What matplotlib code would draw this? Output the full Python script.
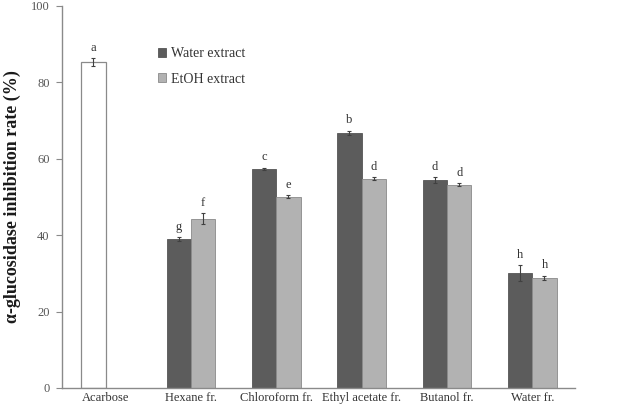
import numpy as np
import matplotlib.pyplot as plt

plt.rcParams['font.family'] = ['Liberation Serif', 'DejaVu Serif']

# data
categories = ['Acarbose', 'Hexane fr.', 'Chloroform fr.', 'Ethyl acetate fr.', 'Butanol fr.', 'Water fr.']
acarbose_val = 85.3
acarbose_err = 1.0
water_vals = [39.0, 57.3, 66.8, 54.4, 30.1]
water_errs = [0.5, 0.3, 0.5, 0.8, 2.0]
etoh_vals = [44.3, 50.1, 54.8, 53.2, 28.8]
etoh_errs = [1.4, 0.4, 0.4, 0.4, 0.5]
acarbose_letter = 'a'
water_letters = ['g', 'c', 'b', 'd', 'h']
etoh_letters = ['f', 'e', 'd', 'd', 'h']

fig = plt.figure(figsize=(6.44, 4.08), dpi=100)
ax = fig.add_axes([62 / 644, 20 / 408, 513 / 644, 382 / 408])

w = 0.285
x = np.arange(1, len(categories))
edge = '#8a8a8a'
ekw = dict(ecolor='#404040', elinewidth=0.8, capsize=1.5, capthick=0.8)

ax.bar(0 - w / 2, acarbose_val, w, color='white', edgecolor=edge, linewidth=0.9,
       yerr=acarbose_err, error_kw=ekw)
ax.bar(x - w / 2, water_vals, w, color='#5c5c5c', edgecolor='#555555', linewidth=0.6,
       yerr=water_errs, error_kw=ekw, label='Water extract')
ax.bar(x + w / 2, etoh_vals, w, color='#b2b2b2', edgecolor=edge, linewidth=0.6,
       yerr=etoh_errs, error_kw=ekw, label='EtOH extract')

lab = dict(ha='center', va='bottom', fontsize=9, color='#333333')
ax.text(0 - w / 2, acarbose_val + acarbose_err + 1.2, acarbose_letter, **lab)
for xi, v, e, t in zip(x, water_vals, water_errs, water_letters):
    ax.text(xi - w / 2, v + e + 1.2, t, **lab)
for xi, v, e, t in zip(x, etoh_vals, etoh_errs, etoh_letters):
    ax.text(xi + w / 2, v + e + 1.2, t, **lab)

ax.set_xlim(-0.51, 5.5)
ax.set_ylim(0, 100)
ax.set_yticks(np.arange(0, 101, 20))
ax.set_xticks(np.arange(len(categories)))
ax.set_xticklabels(categories, fontsize=9, color='#333333')
ax.tick_params(axis='x', length=0, pad=3)
ax.tick_params(axis='y', direction='out', length=4, color=edge, labelsize=9,
               labelcolor='#555555', pad=5)
for s in ['top', 'right']:
    ax.spines[s].set_visible(False)
for s in ['left', 'bottom']:
    ax.spines[s].set_color(edge)
    ax.spines[s].set_linewidth(1.0)

ax.set_ylabel('α-glucosidase inhibition rate (%)', fontsize=13, fontweight='bold',
              color='#1a1a1a')
ax.yaxis.set_label_coords(-0.08, 0.5)

ax.legend(loc='upper left', bbox_to_anchor=(0.163, 0.925), frameon=False, fontsize=10,
          handlelength=0.6, handleheight=0.6, handletextpad=0.3, labelspacing=0.9,
          labelcolor='#333333')

fig.savefig('out.png', dpi=100)
